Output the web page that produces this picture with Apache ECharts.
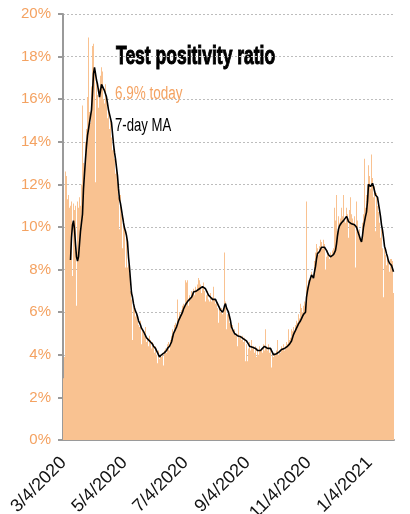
<!DOCTYPE html>
<html>
<head>
<meta charset="utf-8">
<script src="https://cdn.jsdelivr.net/npm/echarts@6/dist/echarts.min.js"></script>
<style>
  html, body { margin: 0; padding: 0; background: #fff; }
  #main { width: 410px; height: 514px; }
</style>
</head>
<body>
<div id="main"></div>
<script>
// daily test positivity (%), starting 3/4/2020
var positivity = [
  2.9, 3.9, 12.6, 12.4, 11.3, 11.5, 10.9, 11.0, 11.2, 7.7,
  11.1, 10.8, 11.0, 6.3, 11.2, 10.9, 11.4, 11.0, 12.0, 15.7,
  13.0, 12.4, 14.0, 14.6, 16.1, 18.9, 15.4, 14.9, 16.6, 18.5,
  18.6, 17.4, 12.1, 17.0, 16.2, 15.6, 16.5, 17.1, 17.5, 17.3,
  16.0, 15.8, 16.7, 16.2, 15.1, 15.5, 14.6, 15.0, 14.2, 13.6,
  13.9, 13.2, 12.5, 12.9, 12.1, 11.4, 9.9, 11.5, 10.6, 9.0,
  10.4, 10.0, 8.1, 9.6, 8.1, 8.2, 7.8, 7.0, 6.6, 4.7,
  6.3, 6.1, 5.8, 6.0, 5.6, 5.4, 5.3, 5.6, 4.5, 5.2,
  5.0, 4.9, 5.3, 4.6, 4.8, 4.4, 4.9, 4.7, 4.3, 4.6,
  4.5, 4.1, 4.4, 4.0, 3.6, 4.2, 3.8, 4.0, 3.9, 4.1,
  3.5, 4.2, 4.3, 4.1, 4.5, 4.6, 4.2, 4.7, 4.9, 5.2,
  5.0, 5.4, 5.5, 5.2, 6.6, 5.7, 6.0, 5.9, 6.1, 6.3,
  6.4, 6.2, 7.5, 7.4, 7.5, 6.3, 6.8, 6.6, 7.0, 6.9,
  7.1, 6.8, 7.2, 7.0, 7.3, 7.6, 7.5, 7.3, 6.9, 7.2,
  7.4, 7.0, 6.5, 6.8, 7.0, 6.6, 6.5, 6.9, 6.5, 6.7,
  7.2, 6.6, 6.4, 6.5, 6.2, 5.5, 6.3, 6.0, 6.2, 5.9,
  6.2, 8.8, 6.5, 5.2, 5.9, 6.0, 5.5, 5.7, 5.2, 5.4,
  5.0, 5.2, 4.9, 5.0, 4.4, 5.5, 4.8, 4.9, 4.7, 4.9,
  4.6, 4.8, 3.7, 4.5, 3.7, 4.3, 4.6, 4.2, 4.7, 4.3,
  4.4, 4.1, 4.4, 3.9, 4.3, 4.0, 4.4, 4.2, 4.3, 4.1,
  4.5, 4.2, 5.2, 4.4, 4.2, 4.5, 4.1, 4.3, 3.4, 4.1,
  3.9, 4.1, 4.0, 4.2, 4.7, 4.0, 4.2, 4.1, 4.4, 4.3,
  4.5, 4.2, 4.4, 4.6, 4.5, 5.2, 4.7, 4.8, 5.2, 5.1,
  5.3, 5.0, 5.4, 5.6, 5.5, 5.9, 5.7, 6.4, 6.2, 6.0,
  6.3, 6.5, 6.4, 11.2, 7.2, 7.5, 7.4, 7.6, 7.9, 7.6,
  7.8, 8.4, 8.8, 9.2, 9.0, 8.7, 9.1, 9.4, 9.3, 9.0,
  9.4, 9.2, 8.0, 8.6, 8.9, 8.7, 8.5, 8.8, 8.7, 8.9,
  9.0, 10.9, 10.3, 11.5, 9.8, 10.5, 10.2, 10.4, 10.9, 10.5,
  11.5, 10.3, 10.2, 10.9, 10.6, 9.5, 10.8, 11.4, 10.6, 10.4,
  10.2, 10.5, 8.1, 11.2, 10.3, 9.6, 9.9, 9.5, 9.4, 10.2,
  10.6, 13.2, 10.9, 11.5, 12.0, 12.9, 12.4, 11.8, 13.4, 12.3,
  11.4, 11.9, 9.8, 11.6, 11.0, 10.7, 10.2, 9.5, 9.9, 9.0,
  6.7, 9.0, 8.7, 8.2, 8.6, 8.3, 7.9, 8.5, 8.5, 8.4, 6.9
];

// 7-day moving average (%)
var ma7 = [
  null, null, null, null, null, null, null, 8.45, 9.5, 10.1,
  10.3, 9.9, 9.2, 8.6, 8.4, 8.6, 9.2, 9.8, 10.2, 10.6,
  11.8, 12.5, 13.2, 13.8, 14.3, 14.6, 14.9, 15.2, 15.5, 16.3,
  17.2, 17.5, 17.2, 16.9, 16.7, 16.4, 16.1, 16.05, 16.7, 16.6,
  16.5, 16.4, 16.4, 16.1, 15.8, 15.5, 15.3, 15.3, 14.9, 14.4,
  13.9, 13.5, 13.2, 12.8, 12.4, 11.8, 11.3, 11.1, 10.8, 10.5,
  10.2, 9.95, 9.8, 9.6, 9.3, 8.6, 8.1, 7.5, 6.9, 6.7,
  6.4, 6.2, 6.05, 5.95, 5.8, 5.6, 5.5, 5.4, 5.25, 5.2,
  5.1, 5.0, 4.9, 4.8, 4.75, 4.7, 4.65, 4.6, 4.55, 4.5,
  4.4, 4.35, 4.3, 4.2, 4.1, 4.0, 3.9, 3.9, 4.0, 4.0,
  4.05, 4.1, 4.1, 4.2, 4.3, 4.35, 4.4, 4.45, 4.6, 4.8,
  5.0, 5.1, 5.15, 5.3, 5.45, 5.6, 5.7, 5.8, 5.9, 6.0,
  6.15, 6.25, 6.35, 6.4, 6.5, 6.55, 6.6, 6.65, 6.7, 6.8,
  6.95, 6.95, 7.0, 7.0, 7.0, 7.05, 7.1, 7.1, 7.15, 7.2,
  7.2, 7.2, 7.1, 7.0, 6.9, 6.8, 6.75, 6.7, 6.65, 6.6,
  6.6, 6.6, 6.6, 6.5, 6.4, 6.3, 6.2, 6.1, 6.05, 6.0,
  6.1, 6.3, 6.4, 6.2, 6.1, 6.0, 5.8, 5.6, 5.3, 5.2,
  5.1, 5.0, 5.0, 4.95, 4.9, 4.9, 4.85, 4.85, 4.8, 4.8,
  4.75, 4.75, 4.7, 4.65, 4.6, 4.5, 4.4, 4.4, 4.4, 4.35,
  4.35, 4.3, 4.3, 4.25, 4.2, 4.2, 4.2, 4.2, 4.25, 4.3,
  4.35, 4.4, 4.4, 4.35, 4.3, 4.3, 4.3, 4.3, 4.2, 4.1,
  4.0, 4.0, 4.0, 4.05, 4.1, 4.1, 4.15, 4.2, 4.25, 4.3,
  4.3, 4.3, 4.3, 4.35, 4.4, 4.45, 4.5, 4.55, 4.65, 4.8,
  4.95, 5.05, 5.15, 5.25, 5.35, 5.45, 5.5, 5.6, 5.7, 5.8,
  5.9, 5.95, 6.0, 6.7, 7.0, 7.25, 7.45, 7.6, 7.75, 7.7,
  7.6, 7.9, 8.15, 8.5, 8.75, 8.8, 8.85, 8.9, 9.05, 9.1,
  9.1, 9.05, 9.0, 8.9, 8.8, 8.7, 8.65, 8.6, 8.6, 8.6,
  8.7, 8.8, 8.9, 9.2, 9.6, 9.9, 10.05, 10.1, 10.2, 10.25,
  10.3, 10.3, 10.35, 10.5, 10.4, 10.25, 10.3, 10.3, 10.15, 10.1,
  10.1, 10.1, 10.1, 10.0, 9.85, 9.7, 9.55, 9.4, 9.3, 9.6,
  10.0, 10.25, 10.5, 10.7, 11.2, 12.0, 12.0, 11.9, 11.95, 12.05,
  11.9, 11.7, 11.5, 11.45, 11.4, 11.1, 10.8, 10.5, 10.1, 9.85,
  9.5, 9.1, 8.95, 8.75, 8.6, 8.4, 8.3, 8.25, 8.2, 8.05, 7.9
];

var tickDates = ['3/4/2020', '5/4/2020', '7/4/2020', '9/4/2020', '11/4/2020', '1/4/2021'];

var orange = '#f4a261';
var barColor = '#f9c291';

// one category per day
var days = [];
var start = new Date(2020, 2, 4);
for (var i = 0; i < positivity.length; i++) {
  var d = new Date(start.getFullYear(), start.getMonth(), start.getDate() + i);
  days.push((d.getMonth() + 1) + '/' + d.getDate() + '/' + d.getFullYear());
}

function isTick(index, value) {
  return tickDates.indexOf(value) >= 0;
}

var myChart = echarts.init(document.getElementById('main'));
myChart.setOption({
  animation: false,
  grid: {
    left: 63,
    right: 16,
    top: 14,
    bottom: 74,
    containLabel: false,
    outerBoundsMode: 'none'
  },
  xAxis: {
    type: 'category',
    data: days,
    axisLine: { lineStyle: { color: '#9a9a9a', width: 2 } },
    axisTick: { interval: isTick, alignWithLabel: true, length: 5, lineStyle: { color: '#9a9a9a', width: 2 } },
    axisLabel: {
      interval: isTick,
      rotate: 45,
      margin: 20,
      color: '#111',
      fontFamily: 'Liberation Sans',
      fontSize: 18
    },
    splitLine: { show: false }
  },
  yAxis: {
    type: 'value',
    min: 0,
    max: 20,
    interval: 2,
    axisLine: { show: true, lineStyle: { color: '#9a9a9a', width: 2 } },
    axisTick: { show: true, length: 5, lineStyle: { color: '#9a9a9a', width: 2 } },
    axisLabel: {
      formatter: '{value}%',
      margin: 12,
      color: orange,
      fontFamily: 'Liberation Sans',
      fontSize: 15
    },
    splitLine: { lineStyle: { color: '#bdbdbd', type: [2, 2], width: 1 } }
  },
  // title and notes, squeezed to look condensed
  graphic: [
    {
      type: 'text', x: 116, y: 57, scaleX: 0.7, originX: 0,
      style: { text: 'Test positivity ratio', fill: '#000', stroke: '#000', lineWidth: 1, font: 'bold 25px "Liberation Sans"', verticalAlign: 'middle' }
    },
    {
      type: 'text', x: 115, y: 94, scaleX: 0.75, originX: 0,
      style: { text: '6.9% today', fill: orange, font: '18px "Liberation Sans"', verticalAlign: 'middle' }
    },
    {
      type: 'text', x: 115, y: 126, scaleX: 0.73, originX: 0,
      style: { text: '7-day MA', fill: '#000', font: '18px "Liberation Sans"', verticalAlign: 'middle' }
    }
  ],
  series: [
    {
      name: 'Positivity',
      type: 'bar',
      data: positivity,
      barCategoryGap: '0%',
      itemStyle: { color: barColor, borderWidth: 0 },
      emphasis: { disabled: true }
    },
    {
      name: '7-day MA',
      type: 'line',
      data: ma7,
      symbol: 'none',
      z: 5,
      lineStyle: { color: '#000', width: 1.6 }
    }
  ]
});
</script>
</body>
</html>
